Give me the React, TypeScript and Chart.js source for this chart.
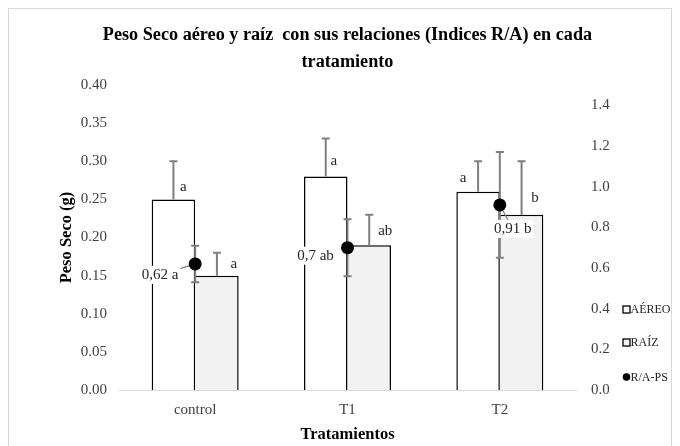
import { useEffect, useRef } from "react";
import { Chart, registerables } from "chart.js";

Chart.register(...registerables);

// ---- data ----
const categories = ["control", "T1", "T2"];
const aereo = [0.25, 0.28, 0.26];
const aereoErr = [0.05, 0.05, 0.04];
const raiz = [0.15, 0.19, 0.23];
const raizErr = [0.03, 0.04, 0.07];
const ratio = [0.62, 0.7, 0.91];
const ratioErr = [0.09, 0.14, 0.26];
const aereoLabels = ["a", "a", "a"];
const raizLabels = ["a", "ab", "b"];
const ratioLabels = ["0,62 a", "0,7 ab", "0,91 b"];
const seriesNames = ["AÉREO", "RAÍZ", "R/A-PS"];
const titleLines = ["Peso Seco aéreo y raíz  con sus relaciones (Indices R/A) en cada", "tratamiento"];
const yTitle = "Peso Seco (g)";
const xTitle = "Tratamientos";

// ---- layout / style (not data) ----
const FONT = "'Liberation Serif', 'Times New Roman', serif";
const ERR_COLOR = "#7f7f7f";
const TEXT_COLOR = "#404040";
const aereoLabelOffset = [[10, -12], [8, -15], [-15, -14]];
const raizLabelOffset = [[17, -12], [16, -14], [13.5, -17]];
const ratioLabelOffset = [[-35, 11], [-32, 8], [13, 24]];
const ratioLeader = [true, false, true];

function drawBarErrors(chart: any) {
  const ctx = chart.ctx;
  const y = chart.scales.y;
  const y1 = chart.scales.y1;
  ctx.save();
  ctx.strokeStyle = ERR_COLOR;
  ctx.lineWidth = 2;
  const cap = 4;
  const sets = [
    { idx: 0, vals: aereo, errs: aereoErr },
    { idx: 1, vals: raiz, errs: raizErr },
  ];
  sets.forEach(({ idx, vals, errs }) => {
    const meta = chart.getDatasetMeta(idx);
    meta.data.forEach((bar: any, j: number) => {
      const x = bar.x;
      const top = y.getPixelForValue(vals[j] + errs[j]);
      const base = y.getPixelForValue(vals[j]);
      ctx.beginPath();
      ctx.moveTo(x, base);
      ctx.lineTo(x, top);
      ctx.moveTo(x - cap, top);
      ctx.lineTo(x + cap, top);
      ctx.stroke();
    });
  });
  const pmeta = chart.getDatasetMeta(2);
  pmeta.data.forEach((pt: any, j: number) => {
    const x = pt.x;
    const top = y1.getPixelForValue(ratio[j] + ratioErr[j]);
    const bot = y1.getPixelForValue(ratio[j] - ratioErr[j]);
    ctx.beginPath();
    ctx.moveTo(x, top);
    ctx.lineTo(x, bot);
    ctx.moveTo(x - cap, top);
    ctx.lineTo(x + cap, top);
    ctx.moveTo(x - cap, bot);
    ctx.lineTo(x + cap, bot);
    ctx.stroke();
  });
  // leader lines
  ctx.lineWidth = 1.2;
  pmeta.data.forEach((pt: any, j: number) => {
    if (!ratioLeader[j]) return;
    const [dx, dy] = ratioLabelOffset[j];
    ctx.beginPath();
    ctx.moveTo(pt.x, pt.y);
    ctx.lineTo(pt.x + dx, pt.y + dy);
    ctx.stroke();
  });
  ctx.restore();
}

const errorPlugin = {
  id: "errorBars",
  beforeDatasetDraw(chart: any, args: any) {
    if (args.index === 2) drawBarErrors(chart);
  },
};

const labelPlugin = {
  id: "dataLabels",
  afterDatasetsDraw(chart: any) {
    const ctx = chart.ctx;
    ctx.save();
    ctx.font = `15px ${FONT}`;
    ctx.textAlign = "center";
    ctx.textBaseline = "middle";
    ctx.fillStyle = "#262626";
    [
      { idx: 0, labels: aereoLabels, off: aereoLabelOffset },
      { idx: 1, labels: raizLabels, off: raizLabelOffset },
    ].forEach(({ idx, labels, off }) => {
      chart.getDatasetMeta(idx).data.forEach((bar: any, j: number) => {
        ctx.fillText(labels[j], bar.x + off[j][0], bar.y + off[j][1]);
      });
    });
    chart.getDatasetMeta(2).data.forEach((pt: any, j: number) => {
      const tx = pt.x + ratioLabelOffset[j][0];
      const ty = pt.y + ratioLabelOffset[j][1];
      const w = ctx.measureText(ratioLabels[j]).width;
      ctx.fillStyle = "#ffffff";
      ctx.fillRect(tx - w / 2 - 2, ty - 9, w + 4, 18);
      ctx.fillStyle = "#262626";
      ctx.fillText(ratioLabels[j], tx, ty);
    });
    ctx.restore();
  },
};

const titleLegendPlugin = {
  id: "titleAndLegend",
  afterDraw(chart: any) {
    const ctx = chart.ctx;
    const { left, right, top, bottom } = chart.chartArea;
    ctx.save();
    // title, centred over the plot area
    ctx.font = `bold 18.2px ${FONT}`;
    ctx.fillStyle = "#000000";
    ctx.textAlign = "center";
    ctx.textBaseline = "middle";
    const cx = (left + right) / 2;
    titleLines.forEach((line, i) => {
      ctx.fillText(line, cx, top - 50 + i * 27);
    });
    // legend
    const ys = [bottom - 81, bottom - 48, bottom - 13];
    const bx = right + 47;
    ctx.font = `12px ${FONT}`;
    ctx.textAlign = "left";
    seriesNames.forEach((name, i) => {
      const cy = ys[i];
      if (i < 2) {
        ctx.fillStyle = i === 0 ? "#ffffff" : "#f2f2f2";
        ctx.fillRect(bx, cy - 3, 7, 7);
        ctx.strokeStyle = "#000";
        ctx.lineWidth = 1.3;
        ctx.strokeRect(bx, cy - 3, 7, 7);
      } else {
        ctx.fillStyle = "#000";
        ctx.beginPath();
        ctx.arc(bx + 3.5, cy, 3.8, 0, Math.PI * 2);
        ctx.fill();
      }
      ctx.fillStyle = "#262626";
      ctx.fillText(name, bx + 7.5, cy + 1);
    });
    ctx.restore();
  },
};

export default function App() {
  const ref = useRef<HTMLCanvasElement | null>(null);
  useEffect(() => {
    if (!ref.current) return;
    const chart = new Chart(ref.current, {
      type: "bar",
      data: {
        labels: categories,
        datasets: [
          {
            label: seriesNames[0],
            data: aereo,
            yAxisID: "y",
            backgroundColor: "#ffffff",
            borderColor: "#000000",
            borderWidth: { top: 1.5, left: 1.5, right: 1.5, bottom: 0 },
            borderSkipped: false,
            categoryPercentage: 0.571,
            barPercentage: 1,
          },
          {
            label: seriesNames[1],
            data: raiz,
            yAxisID: "y",
            backgroundColor: "#f2f2f2",
            borderColor: "#000000",
            borderWidth: { top: 1.5, left: 0, right: 1.5, bottom: 0 },
            borderSkipped: false,
            categoryPercentage: 0.571,
            barPercentage: 1,
          },
          {
            type: "line",
            label: seriesNames[2],
            data: ratio,
            yAxisID: "y1",
            showLine: false,
            pointRadius: 6.5,
            pointBackgroundColor: "#000000",
            pointBorderColor: "#000000",
            pointBorderWidth: 0,
            order: -1,
          } as any,
        ],
      },
      options: {
        responsive: false,
        animation: false,
        devicePixelRatio: 1,
        layout: { padding: { left: 0, right: 50, top: 76, bottom: 0 } },
        plugins: {
          legend: { display: false },
          tooltip: { enabled: false },
          title: { display: false },
        },
        scales: {
          x: {
            grid: { display: false },
            border: { display: true, color: "#d9d9d9", width: 1, z: 1 },
            ticks: { color: TEXT_COLOR, font: { family: FONT, size: 15 }, padding: 3 },
            title: {
              display: true,
              text: xTitle,
              color: "#000000",
              font: { family: FONT, size: 16.5, weight: "bold" },
              padding: { top: 0, bottom: 1 },
            },
            afterFit: (s: any) => {
              s.height = 56;
            },
          },
          y: {
            position: "left",
            min: 0,
            max: 0.4,
            grid: { display: false, drawTicks: false },
            border: { display: false },
            ticks: {
              stepSize: 0.05,
              color: TEXT_COLOR,
              font: { family: FONT, size: 15 },
              padding: 12,
              callback: (v: any) => Number(v).toFixed(2),
            },
            title: {
              display: true,
              text: yTitle,
              color: "#000000",
              font: { family: FONT, size: 16.5, weight: "bold" },
              padding: { top: 48, bottom: 0 },
            },
            afterFit: (s: any) => {
              s.width = 110;
            },
          },
          y1: {
            position: "right",
            min: 0,
            max: 1.5,
            grid: { display: false, drawTicks: false },
            border: { display: false },
            ticks: {
              stepSize: 0.2,
              color: TEXT_COLOR,
              font: { family: FONT, size: 15 },
              padding: 15,
              callback: (v: any) => Number(v).toFixed(1),
            },
            afterBuildTicks: (s: any) => {
              s.ticks = s.ticks.filter((t: any) => t.value < 1.45);
            },
            afterFit: (s: any) => {
              s.width = 45;
            },
          },
        },
      } as any,
      plugins: [errorPlugin, labelPlugin, titleLegendPlugin],
    });
    return () => chart.destroy();
  }, []);

  return (
    <div
      style={{
        width: 664,
        height: 438,
        border: "1px solid #d9d9d9",
        borderBottom: "none",
        boxSizing: "border-box",
        background: "#ffffff",
      }}
    >
      <canvas ref={ref} width={662} height={437} style={{ display: "block" }} />
    </div>
  );
}
